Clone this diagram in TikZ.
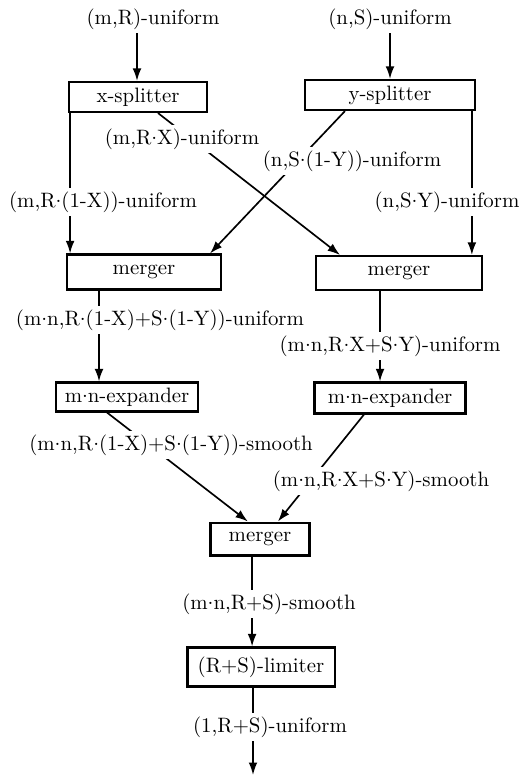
\documentclass[tikz,border=0pt]{standalone}
\usetikzlibrary{arrows.meta,calc}
\newcommand{\mdot}{\raisebox{0.5ex}{.}}

\begin{document}
\begin{tikzpicture}[x=0.48pt,y=-0.48pt,
  box/.style={draw,line width=1pt,inner sep=0pt},
  lbl/.style={fill=white,inner sep=1.5pt},
  arr/.style={line width=0.8pt,-{Latex[length=6pt,width=4.2pt]}}]
\useasboundingbox (0,0) rectangle (531,777);

\node[box,minimum width=66.2pt,minimum height=14.4pt] (xsplit) at (138,97) {x-splitter};
\node[box,minimum width=81.6pt,minimum height=14.4pt] (ysplit) at (390,95) {y-splitter};
\node[box,minimum width=73.9pt,minimum height=16.8pt] (merge1) at (144,272) {merger};
\node[box,minimum width=79.7pt,minimum height=16.3pt] (merge2) at (399,273) {merger};
\node[box,minimum width=68.2pt,minimum height=13.9pt] (exp1) at (127,397) {m\mdot n-expander};
\node[box,minimum width=72.5pt,minimum height=14.9pt] (exp2) at (390,398) {m\mdot n-expander};
\node[box,minimum width=47.5pt,minimum height=15.8pt] (merge3) at (260,539) {merger};
\node[box,minimum width=70.6pt,minimum height=18.7pt] (limit) at (261,667) {(R+S)-limiter};

\coordinate (inm) at (137,31);
\coordinate (inn) at (390,31);
\coordinate (out) at (253,775);

\draw[arr] (inm) -- (inm |- xsplit.north);
\draw[arr] (inn) -- (inn |- ysplit.north);
\draw[arr] ([xshift=1pt]xsplit.south west) -- ([xshift=1pt]xsplit.south west |- merge1.north);
\draw[arr] ([xshift=-2pt]ysplit.south east) -- ([xshift=-2pt]ysplit.south east |- merge2.north);
\draw[arr] ([xshift=9.6pt]xsplit.south) -- ([xshift=-28.3pt]merge2.north);
\draw[arr] ([xshift=-21.6pt]ysplit.south) -- ([xshift=31.7pt]merge1.north);
\draw[arr] ([xshift=-21.6pt]merge1.south) -- ([xshift=-21.6pt]merge1.south |- exp1.north);
\draw[arr] ([xshift=-9.1pt]merge2.south) -- ([xshift=-9.1pt]merge2.south |- exp2.north);
\draw[arr] ([xshift=-9.6pt]exp1.south) -- ([xshift=-5.8pt]merge3.north);
\draw[arr] ([xshift=-12.5pt]exp2.south) -- ([xshift=8.6pt]merge3.north);
\draw[arr] ([xshift=-3.8pt]merge3.south) -- ([xshift=-3.8pt]merge3.south |- limit.north);
\draw[arr] (limit.south -| out) -- (out);

\node[lbl] (inmlbl) at (153,19) {(m,R)-uniform};
\node[lbl] (innlbl) at (390,19) {(n,S)-uniform};
\node[lbl] (rxlbl) at (182,139) {(m,R\mdot X)-uniform};
\node[lbl] (sylbl) at (352,161) {(n,S\mdot(1-Y))-uniform};
\node[lbl] (rnxlbl) at (103,202) {(m,R\mdot(1-X))-uniform};
\node[lbl] (snylbl) at (447,202) {(n,S\mdot Y)-uniform};
\node[lbl] (m1lbl) at (160,320) {(m\mdot n,R\mdot(1-X)+S\mdot(1-Y))-uniform};
\node[lbl] (m2lbl) at (390,346) {(m\mdot n,R\mdot X+S\mdot Y)-uniform};
\node[lbl] (e1lbl) at (171,445) {(m\mdot n,R\mdot(1-X)+S\mdot(1-Y))-smooth};
\node[lbl] (e2lbl) at (381,481) {(m\mdot n,R\mdot X+S\mdot Y)-smooth};
\node[lbl] (m3lbl) at (269,604) {(m\mdot n,R+S)-smooth};
\node[lbl] (outlbl) at (270,727) {(1,R+S)-uniform};
\end{tikzpicture}
\end{document}
